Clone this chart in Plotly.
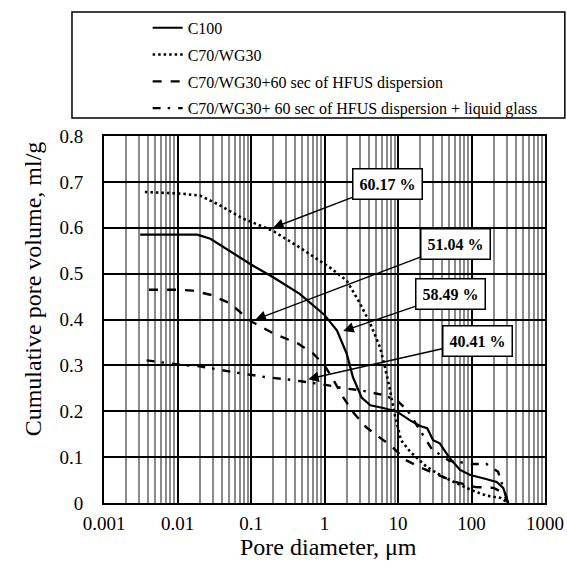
import math
import plotly.graph_objects as go

# Cumulative pore volume (ml/g) versus pore diameter (um)
c100_d = [0.0031, 0.0186, 0.028, 0.05, 0.1, 0.2, 0.46, 1.0, 1.48, 2.0, 2.44, 3.2, 4.2,
          6.3, 9.7, 14.6, 20, 25, 30, 37, 51, 70, 96, 144, 220, 270, 316]
c100_v = [0.585, 0.585, 0.576, 0.55, 0.52, 0.492, 0.456, 0.41, 0.376, 0.326, 0.274, 0.23, 0.213,
          0.207, 0.199, 0.18, 0.168, 0.163, 0.137, 0.13, 0.097, 0.072, 0.061, 0.054, 0.046, 0.033, 0.0]

wg30_d = [0.0036, 0.0119, 0.0203, 0.0346, 0.078, 0.2, 0.46, 1.19, 2.0, 2.9, 4.2, 5.7, 6.65,
          7.8, 9.1, 10, 11, 14.6, 24.5, 41, 60, 100, 160, 250, 316]
wg30_v = [0.678, 0.674, 0.67, 0.652, 0.62, 0.593, 0.557, 0.513, 0.485, 0.441, 0.391, 0.339, 0.296,
          0.246, 0.19, 0.165, 0.137, 0.112, 0.079, 0.057, 0.045, 0.028, 0.016, 0.011, 0.0]

hfus_d = [0.0041, 0.01, 0.016, 0.028, 0.052, 0.087, 0.1, 0.2, 0.43, 0.70, 1.0, 1.25, 1.8,
          2.45, 3.7, 5.6, 8.3, 12.6, 20, 35, 60, 112, 200, 270, 316]
hfus_v = [0.465, 0.465, 0.463, 0.454, 0.435, 0.405, 0.396, 0.37, 0.348, 0.326, 0.30, 0.275, 0.23,
          0.198, 0.165, 0.143, 0.123, 0.094, 0.078, 0.061, 0.046, 0.035, 0.033, 0.022, 0.0]

glass_d = [0.0038, 0.01, 0.02, 0.03, 0.07, 0.166, 0.37, 1.08, 1.8, 3.0, 6.5, 8.6, 10,
           13.7, 22, 29, 50, 105, 160, 230, 316]
glass_v = [0.311, 0.302, 0.298, 0.293, 0.283, 0.274, 0.268, 0.257, 0.25, 0.246, 0.235, 0.226, 0.222,
           0.2, 0.146, 0.117, 0.092, 0.085, 0.085, 0.068, 0.0]

series_names = [
    "C100",
    "C70/WG30",
    "C70/WG30+60 sec of HFUS dispersion",
    "C70/WG30+ 60 sec of HFUS dispersion + liquid glass",
]

# Porosity callouts: text, arrow tip (diameter, volume), box centre (diameter, volume)
callout_text = ["60.17 %", "51.04 %", "58.49 %", "40.41 %"]
callout_tip_d = [0.2, 0.115, 1.8, 0.6]
callout_tip_v = [0.60, 0.40, 0.375, 0.27]
callout_box_d = [7.25, 61.0, 52.1, 122.5]
callout_box_v = [0.696, 0.565, 0.455, 0.354]

x_ticks = [0.001, 0.01, 0.1, 1, 10, 100, 1000]
x_tick_text = ["0.001", "0.01", "0.1", "1", "10", "100", "1000"]
# minor grid at 2..9 within every decade
x_minor = [m * d for d in x_ticks[:-1] for m in range(2, 10)]

SERIF = "Liberation Serif"

styles = [
    dict(color="black", width=2.2, dash="solid"),
    dict(color="black", width=2.6, dash="2.5px,3px"),
    dict(color="black", width=2.4, dash="9px,9px"),
    dict(color="black", width=2.4, dash="8px,7px,2.5px,8px"),
]

fig = go.Figure()
for i, (d, v) in enumerate([(c100_d, c100_v), (wg30_d, wg30_v), (hfus_d, hfus_v), (glass_d, glass_v)]):
    fig.add_trace(go.Scatter(
        x=d, y=v, mode="lines", name=series_names[i],
        line=styles[i], legendgroup=f"g{i}",
    ))

for t, xd, yv, bx, by in zip(callout_text, callout_tip_d, callout_tip_v, callout_box_d, callout_box_v):
    fig.add_annotation(
        x=math.log10(xd), y=yv, xref="x", yref="y",
        ax=math.log10(bx), ay=by, axref="x", ayref="y",
        text=f"<b>{t}</b>", showarrow=True,
        arrowhead=2, arrowsize=1.5, arrowwidth=1.4, arrowcolor="black",
        font=dict(family=SERIF, size=16, color="black"),
        bgcolor="white", bordercolor="black", borderwidth=1.5, borderpad=6,
    )

# axis titles
fig.add_annotation(
    x=-0.161, y=0.585, xref="paper", yref="paper",
    text="Cumulative pore volume, ml/g", textangle=-90, showarrow=False,
    xanchor="center", yanchor="middle",
    font=dict(family=SERIF, size=24, color="black"),
)
fig.add_annotation(
    x=0.51, y=-0.082, xref="paper", yref="paper",
    text="Pore diameter, μm", showarrow=False,
    xanchor="center", yanchor="top", borderpad=0,
    font=dict(family=SERIF, size=24, color="black"),
)

# legend frame
fig.add_shape(type="rect", xref="paper", yref="paper",
              x0=-0.0726, x1=1.045, y0=1.049, y1=1.338,
              line=dict(color="black", width=1.5), fillcolor="rgba(0,0,0,0)")

fig.update_layout(
    width=567, height=576,
    margin=dict(l=104, r=22, t=136, b=73, autoexpand=False),
    paper_bgcolor="white", plot_bgcolor="white",
    font=dict(family=SERIF, color="black"),
    showlegend=True,
    legend=dict(
        x=0.099, y=1.341, xanchor="left", yanchor="top",
        bgcolor="rgba(0,0,0,0)", borderwidth=0,
        font=dict(family=SERIF, size=16, color="black"),
        tracegroupgap=3, traceorder="grouped",
    ),
    xaxis=dict(
        type="log", range=[-3, 3],
        tickvals=x_ticks, ticktext=x_tick_text,
        tickfont=dict(family=SERIF, size=19, color="black"),
        showgrid=True, gridcolor="black", gridwidth=2,
        minor=dict(tickvals=x_minor, showgrid=True, gridcolor="#8a8a8a", gridwidth=1.7, ticks=""),
        showline=True, linecolor="black", linewidth=2, mirror=True,
        ticks="", ticklabelstandoff=2,
        zeroline=False,
    ),
    yaxis=dict(
        range=[0, 0.8], dtick=0.1, tick0=0,
        tickfont=dict(family=SERIF, size=19, color="black"),
        showgrid=True, gridcolor="black", gridwidth=1.6,
        showline=True, linecolor="black", linewidth=2, mirror=True,
        ticks="", ticklabelstandoff=15,
        zeroline=False,
    ),
)

fig.write_html("out.html")
